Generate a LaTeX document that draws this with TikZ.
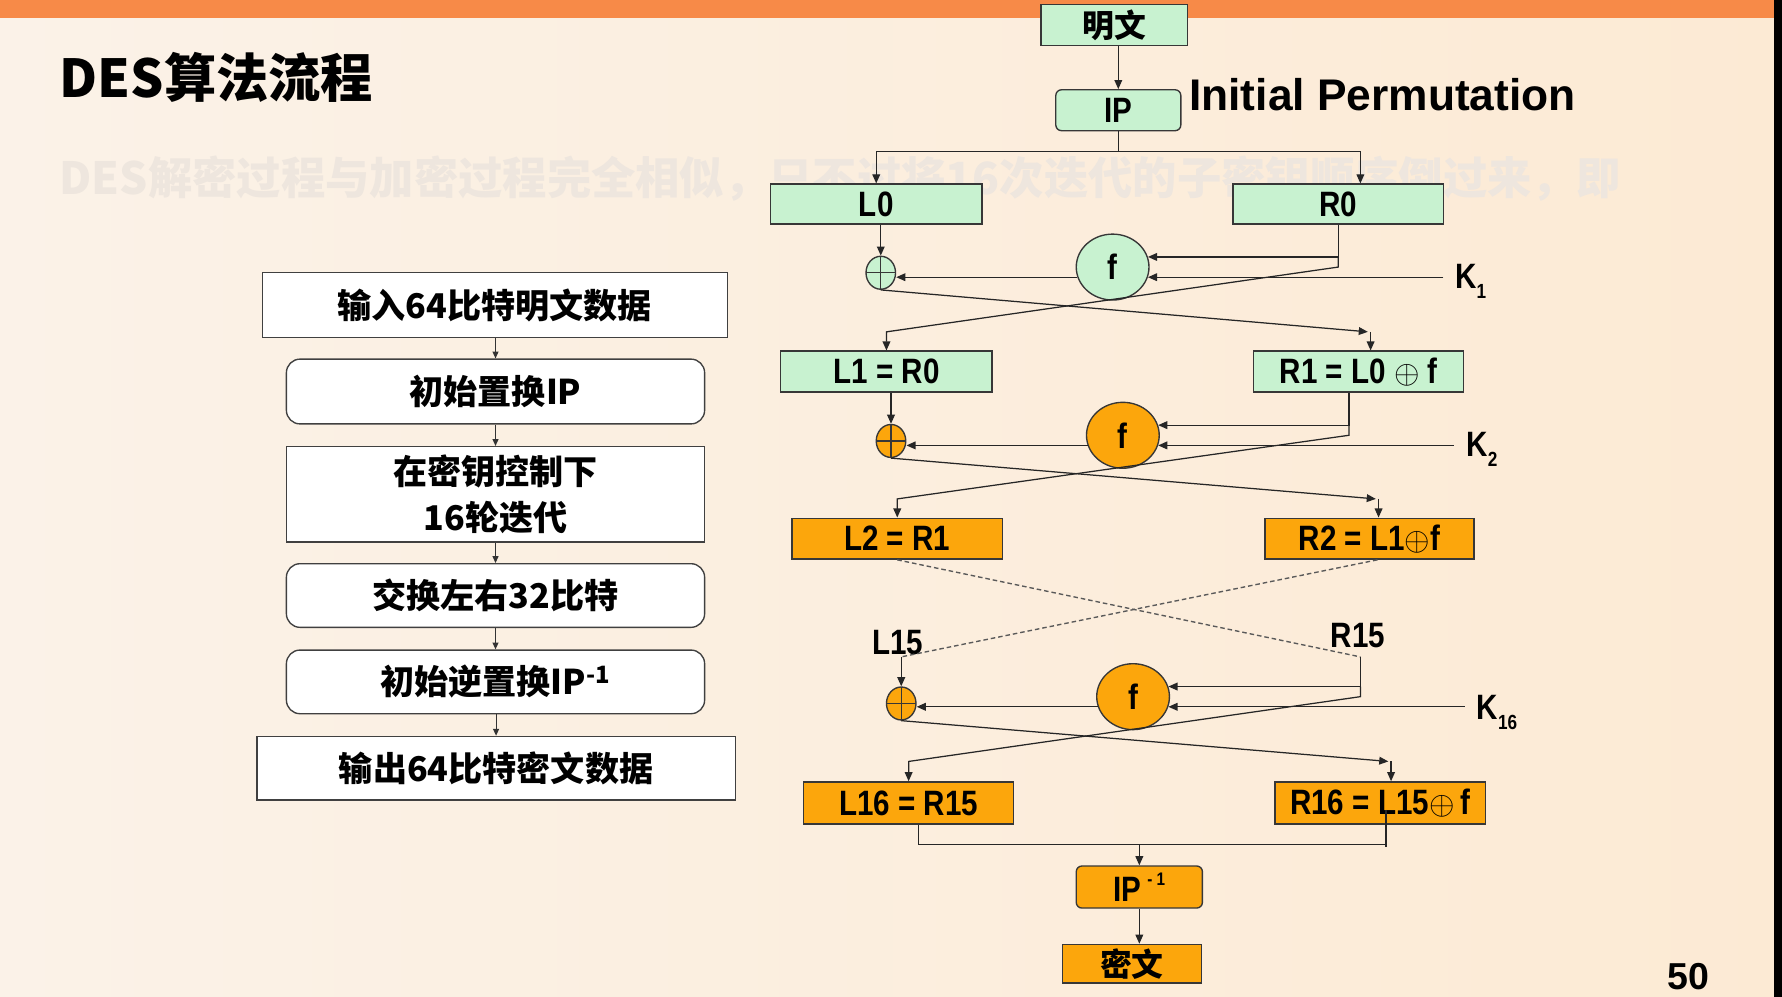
\documentclass[tikz,border=0pt]{standalone}
\usepackage{fontspec}
\usetikzlibrary{arrows.meta,shapes.geometric}
\newfontfamily\cjk{Noto Sans CJK SC}
\newfontfamily\lib{Liberation Sans}
\newfontfamily\libn{Liberation Sans}[FakeStretch=0.84]
\definecolor{dgreen}{RGB}{200,242,208}
\definecolor{dorange}{RGB}{252,166,12}
\definecolor{band}{RGB}{247,138,72}
\definecolor{bgl}{RGB}{251,242,232}
\definecolor{bgm}{RGB}{254,250,245}
\definecolor{bgr}{RGB}{252,234,212}
\definecolor{ghost}{RGB}{238,230,222}
\definecolor{edge}{RGB}{55,55,55}
\newcommand\dfont{\libn\bfseries\fontsize{15.5}{17}\selectfont}
\newcommand\cfont{\cjk\bfseries\fontsize{14}{16}\selectfont}
\newcommand\lfont{\cjk\bfseries\fontsize{15}{20.5}\selectfont}
\begin{document}
\begin{tikzpicture}[x=0.5pt,y=-0.5pt,
  box/.style={draw=edge, line width=0.6pt, inner sep=0pt, font=\dfont},
  gbox/.style={box, fill=dgreen},
  obox/.style={box, fill=dorange},
  fcirc/.style={ellipse, draw=edge, line width=0.6pt, minimum width=32pt, minimum height=29pt, inner sep=0pt, font=\dfont},
  xorc/.style={ellipse, draw=edge, line width=0.6pt, minimum width=13pt, minimum height=14.5pt, inner sep=0pt,
    path picture={\draw[line width=0.5pt,edge] (path picture bounding box.north) -- (path picture bounding box.south)
      (path picture bounding box.west) -- (path picture bounding box.east);}},
  lab/.style={font=\dfont, inner sep=0pt},
  arr/.style={draw=black!85, line width=0.55pt, -{Triangle[length=4pt,width=3.4pt]}},
  sarr/.style={draw=black!80, line width=0.5pt, -{Triangle[length=3pt,width=2.6pt]}},
  plain/.style={draw=black!85, line width=0.55pt},
  dsh/.style={draw=black!65, line width=0.6pt, dash pattern=on 2pt off 1.3pt},
  lbox/.style={draw=black!75, line width=0.6pt, fill=white, font=\lfont, align=center, inner sep=0pt},
  rbox/.style={lbox, rounded corners=6pt}]
\useasboundingbox (0,0) rectangle (1568,877);
\shade[left color=bgl, middle color=bgm, right color=bgr] (0,0) rectangle (1568,877);
\fill[band] (0,0) rectangle (1568,16);
\fill[black] (1561,0) rectangle (1568,877);

% ghost text and titles
\node[anchor=west, text=ghost, font=\cjk\bfseries\fontsize{19.5}{20}\selectfont, inner sep=0pt] (ghost) at (52,157) {DES解密过程与加密过程完全相似，只不过将16次迭代的子密钥顺序倒过来，即};
\node[anchor=west, font=\cjk\bfseries\fontsize{23}{25}\selectfont, inner sep=0pt] (title) at (52,68) {DES算法流程};
\node[anchor=base west, font=\lib\bfseries\fontsize{19.5}{21}\selectfont, inner sep=0pt] (ipl) at (1046,97) {Initial Permutation};
\node[anchor=base west, font=\lib\bfseries\fontsize{16.5}{18}\selectfont, inner sep=0pt] (pg) at (1467,871) {50};

% left flowchart
\node[lbox, minimum width=204.5pt, minimum height=28.5pt] (s1) at (435.5,268.5) {输入64比特明文数据};
\node[rbox, minimum width=184pt, minimum height=28.5pt] (s2) at (436,344.5) {初始置换IP};
\node[lbox, minimum width=184pt, minimum height=42pt] (s3) at (436,435) {在密钥控制下\\16轮迭代};
\node[rbox, minimum width=184pt, minimum height=28pt] (s4) at (436,524) {交换左右32比特};
\node[rbox, minimum width=184pt, minimum height=28pt] (s5) at (436,600) {初始逆置换IP\textsuperscript{-1}};
\node[lbox, minimum width=210.5pt, minimum height=28pt] (s6) at (436.5,676) {输出64比特密文数据};
\foreach \a/\b in {s1/s2,s2/s3,s3/s4,s4/s5,s5/s6}
  \draw[sarr] (\b.north |- \a.south) -- (\b.north);

% right diagram nodes
\node[gbox, minimum width=64.5pt, minimum height=18pt, font=\cfont] (ming) at (980.5,22) {明文};
\node[gbox, rounded corners=2.5pt, minimum width=55pt, minimum height=18pt] (ip) at (984,97) {IP};
\node[gbox, minimum width=93pt, minimum height=17.5pt] (L0) at (771,179.5) {L0};
\node[gbox, minimum width=92.5pt, minimum height=17.5pt] (R0) at (1177.5,179.5) {R0};
\node[xorc, fill=dgreen] (x1) at (775,240) {};
\node[fcirc, fill=dgreen] (f1) at (979,235) {f};
\node[gbox, minimum width=93pt, minimum height=18pt] (L1) at (780,327) {L1 = R0};
\node[gbox, minimum width=92.5pt, minimum height=18pt] (R1) at (1195.5,327) {R1 = L0 $\oplus$ f};
\node[xorc, fill=dorange] (x2) at (784,388) {};
\node[fcirc, fill=dorange] (f2) at (988,383) {f};
\node[obox, minimum width=92.5pt, minimum height=18pt] (L2) at (789.5,474) {L2 = R1};
\node[obox, minimum width=92pt, minimum height=18pt] (R2) at (1205,474) {R2 = L1$\oplus$f};
\node[lab] (L15) at (790,565) {L15};
\node[lab] (R15) at (1195,559) {R15};
\node[xorc, fill=dorange] (x16) at (793,619) {};
\node[fcirc, fill=dorange] (f16) at (997,613) {f};
\node[obox, minimum width=92.5pt, minimum height=18.5pt] (L16) at (799.5,706.5) {L16 = R15};
\node[obox, minimum width=92.5pt, minimum height=18.5pt] (R16) at (1214.5,706.5) {R16 = L15$\oplus$\,f};
\node[obox, rounded corners=2.5pt, minimum width=55.5pt, minimum height=18.5pt] (ipinv) at (1002.5,780.5) {IP\,\raisebox{.45em}{\fontsize{8}{8}\selectfont - 1}};
\node[obox, minimum width=61pt, minimum height=17pt, font=\cfont] (miwen) at (996,848) {密文};
\node[anchor=base west, font=\dfont, inner sep=0pt] (K1) at (1280,254) {K\raisebox{-0.28em}{\fontsize{9}{9}\selectfont 1}};
\node[anchor=base west, font=\dfont, inner sep=0pt] (K2) at (1290,402) {K\raisebox{-0.28em}{\fontsize{9}{9}\selectfont 2}};
\node[anchor=base west, font=\dfont, inner sep=0pt] (K16) at (1299,633) {K\raisebox{-0.28em}{\fontsize{9}{9}\selectfont 16}};

% helper coordinates
\coordinate (sp) at (0,133);
\coordinate (b1) at (0,292);
\coordinate (b2) at (0,439);
\coordinate (b16) at (0,670);
\coordinate (bj) at (0,743);
\coordinate (k1s) at (1270,0);
\coordinate (k2s) at (1279,0);
\coordinate (k16s) at (1289,0);
\coordinate (r0in) at ([xshift=9.75pt]R0.north);
\coordinate (r1in) at ([xshift=5.25pt]R1.north);
\coordinate (r1out) at ([xshift=-4.25pt]R1.south);
\coordinate (r2in) at ([xshift=4pt]R2.north);
\coordinate (r16in) at ([xshift=4.75pt]R16.north);
\coordinate (l15p) at (793,578);
\coordinate (r15p) at (1197,578);
\coordinate (l16o) at ([xshift=4.25pt]L16.south);
\coordinate (r16o) at ([xshift=2.5pt,yshift=6.5pt]R16.south);

% top
\draw[arr] (ip.north |- ming.south) -- (ip.north);
\draw[arr] (ip.south) -- (ip.south |- sp) -| (L0.north);
\draw[arr] (ip.south |- sp) -| (r0in);

% round 1
\draw[arr] (x1.north |- L0.south) -- (x1.north);
\draw[arr] (R0.south) -- (R0.south |- f1.16) -- (f1.16);
\draw[arr] (R0.south |- f1.16) -- (R0.south |- f1.center) -- (L1.north |- b1) -- (L1.north);
\draw[arr] (k1s |- f1.-16) -- (f1.-16);
\draw[arr] (f1.196) -- (x1.east |- f1.196);
\draw[arr] (x1.south) -- ([xshift=-1.2pt]r1in |- b1);
\draw[arr] (r1in |- b1) -- (r1in);

% round 2
\draw[arr] (x2.north |- L1.south) -- (x2.north);
\draw[arr] (r1out) -- (r1out |- f2.16) -- (f2.16);
\draw[arr] (r1out |- f2.16) -- (r1out |- f2.center) -- (L2.north |- b2) -- (L2.north);
\draw[arr] (k2s |- f2.-16) -- (f2.-16);
\draw[arr] (f2.196) -- (x2.east |- f2.196);
\draw[arr] (x2.south) -- ([xshift=-1.2pt]r2in |- b2);
\draw[arr] (r2in |- b2) -- (r2in);

% skipped rounds
\draw[dsh] (L2.south) -- (r15p);
\draw[dsh] ([xshift=3.5pt]R2.south) -- (l15p);

% round 16
\draw[arr] (l15p) -- (x16.north);
\draw[arr] (r15p) -- (r15p |- f16.16) -- (f16.16);
\draw[arr] (r15p |- f16.16) -- (r15p |- f16.center) -- (L16.north |- b16) -- (L16.north);
\draw[arr] (k16s |- f16.-16) -- (f16.-16);
\draw[arr] (f16.196) -- (x16.east |- f16.196);
\draw[arr] (x16.south) -- ([xshift=-1.2pt]r16in |- b16);
\draw[arr] (r16in |- b16) -- (r16in);

% output
\draw[plain] (l16o) -- (l16o |- bj) -- (r16o |- bj);
\draw[plain] (r16o) -- ([yshift=-1pt]r16o |- bj);
\draw[arr] (ipinv.north |- bj) -- (ipinv.north);
\draw[arr] (ipinv.south) -- (ipinv.south |- miwen.north);
\end{tikzpicture}
\end{document}
